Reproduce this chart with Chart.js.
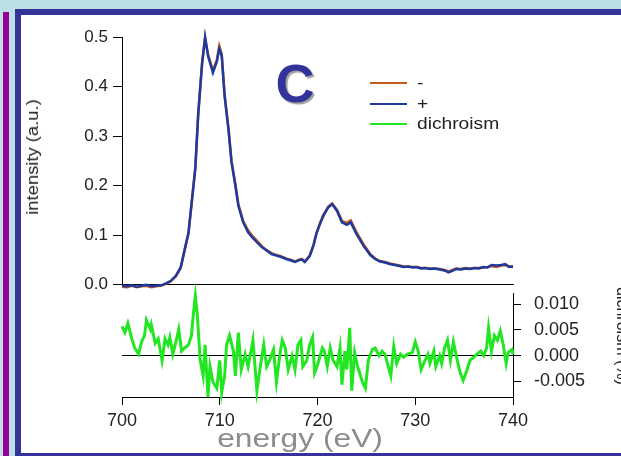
<!DOCTYPE html>
<html>
<head>
<meta charset="utf-8">
<script src="https://cdn.jsdelivr.net/npm/chart.js"></script>
<style>
html,body{margin:0;padding:0;}
body{width:621px;height:456px;overflow:hidden;position:relative;background:#bbe0e4;font-family:"Liberation Sans",Arial,sans-serif;}
#purple{position:absolute;left:3px;top:12px;width:6px;height:444px;background:#990099;}
#frame{position:absolute;left:15px;top:9px;width:700px;height:447px;box-sizing:border-box;background:#fff;border-top:6px solid #333399;border-left:6px solid #333399;border-bottom:3px solid #333399;}
canvas{position:absolute;left:0;}
#specChart{top:0;}
#dichroChart{top:270px;}
.txt{position:absolute;white-space:nowrap;}
#ytitle{left:33px;top:157px;transform:translate(-50%,-50%) rotate(-90deg) scaleX(1.15);font-size:16px;color:#222;}
#xtitle{left:300px;top:438px;transform:translate(-50%,-50%) scaleX(1.22);font-size:26px;color:#8c8c8c;}
#y2title{left:614px;top:287px;writing-mode:vertical-rl;font-size:16px;line-height:16px;color:#222;}
#bigC{left:295px;top:83px;transform:translate(-50%,-50%);font-size:54px;font-weight:bold;color:#333399;text-shadow:2px 2px 1px #a0a0a0;}
#legend{position:absolute;left:370px;top:73px;font-size:16px;color:#222;}
#legend div{display:flex;align-items:center;height:20.5px;}
#legend span.sw{display:inline-block;width:37px;height:2px;margin-right:10px;}
#legend span.lb{display:inline-block;transform:scaleX(1.2);transform-origin:left center;}
</style>
</head>
<body>
<div id="purple"></div>
<div id="frame"></div>
<canvas id="specChart" width="621" height="300"></canvas>
<canvas id="dichroChart" width="621" height="186"></canvas>
<div class="txt" id="ytitle">intensity (a.u.)</div>
<div class="txt" id="xtitle">energy (eV)</div>
<div class="txt" id="y2title">dichroism (%)</div>
<div class="txt" id="bigC">C</div>
<div id="legend"></div>
<script>
const energy = [
700,700.5,701,701.5,702,702.5,703,703.5,704,704.5,
705,705.5,706,706.4,706.8,707.1,707.5,707.8,708.2,708.5,
708.8,709.3,709.7,709.95,710.2,710.5,710.9,711.2,711.6,711.9,
712.4,712.9,713.4,713.8,714.3,714.8,715.3,715.8,716.3,716.8,
717.3,717.7,718.1,718.4,718.7,719.2,719.6,719.9,720.3,720.6,
721.1,721.5,722,722.5,723,723.4,724,724.7,725.4,725.9,
726.4,726.9,727.4,727.9,728.4,728.8,729.3,729.7,730.1,730.6,
731,731.5,732,732.5,733,733.4,733.8,734.2,734.7,735.1,
735.6,736.1,736.5,737,737.4,737.8,738.3,738.8,739.2,739.6,740
]
const plus = [
-0.002,-0.003,-0.001,-0.004,-0.002,0.000,-0.003,-0.002,-0.001,0.003,
0.008,0.018,0.035,0.070,0.105,0.160,0.235,0.345,0.448,0.500,
0.462,0.428,0.450,0.476,0.462,0.380,0.312,0.248,0.200,0.160,
0.126,0.106,0.094,0.086,0.076,0.069,0.062,0.059,0.056,0.052,
0.049,0.046,0.050,0.051,0.046,0.058,0.080,0.104,0.125,0.139,
0.156,0.163,0.149,0.126,0.121,0.126,0.102,0.079,0.060,0.052,
0.047,0.045,0.042,0.040,0.038,0.036,0.037,0.035,0.036,0.033,
0.034,0.032,0.033,0.031,0.029,0.025,0.028,0.032,0.031,0.033,
0.032,0.034,0.033,0.036,0.035,0.040,0.039,0.040,0.042,0.036,0.037
]
const minus = [
-0.004,-0.005,-0.002,-0.005,-0.003,-0.002,-0.005,-0.003,-0.002,0.002,
0.007,0.017,0.034,0.069,0.104,0.161,0.236,0.346,0.449,0.498,
0.465,0.432,0.454,0.482,0.466,0.383,0.314,0.250,0.203,0.163,
0.128,0.110,0.097,0.089,0.078,0.070,0.064,0.060,0.057,0.053,
0.050,0.047,0.050,0.052,0.047,0.059,0.081,0.105,0.127,0.141,
0.158,0.164,0.151,0.129,0.125,0.130,0.106,0.082,0.062,0.053,
0.048,0.046,0.043,0.041,0.039,0.037,0.037,0.036,0.036,0.034,
0.034,0.033,0.033,0.032,0.030,0.027,0.030,0.033,0.032,0.034,
0.033,0.034,0.034,0.035,0.036,0.038,0.036,0.039,0.040,0.037,0.037
]
const dichEnergy = [
700,700.3,700.6,701,701.3,701.7,702,702.3,702.5,702.9,
703,703.4,703.7,704.1,704.4,704.7,704.9,705.2,705.6,705.8,
706.1,706.4,706.8,707.1,707.3,707.5,707.7,708,708.3,708.5,
708.8,709,709.3,709.7,710,710.2,710.5,710.7,711,711.4,
711.6,711.9,712.2,712.6,712.9,713.2,713.4,713.8,714.1,714.5,
714.8,715.1,715.5,715.8,716.2,716.4,716.7,717,717.4,717.7,
718,718.3,718.5,718.9,719.2,719.5,719.7,720,720.5,720.7,
721,721.3,721.6,722,722.3,722.5,722.8,723,723.3,723.5,
723.8,724.1,724.6,724.9,725.2,725.6,725.9,726.3,726.6,726.9,
727.2,727.5,727.8,728.1,728.5,728.8,729.2,729.7,730,730.3,
730.6,731,731.3,731.5,731.9,732.1,732.5,732.7,733,733.3,
733.6,733.9,734.3,734.6,734.9,735.3,735.6,736,736.3,736.7,
737,737.3,737.5,737.8,738.1,738.4,738.7,739,739.3,739.5,
739.9,740
]
const dichroism = [
0.0057,0.0045,0.0063,0.0033,0.0015,0.0003,0.0027,0.0039,0.0069,0.0051,
0.006,0.0024,0.0033,-0.0009,0.0033,0.0021,0.0036,0.0003,0.0033,0.0051,
0.0009,0.0015,0.0021,0.0039,0.008,0.0116,0.008,-0.0009,-0.0039,0.0021,
-0.008,-0.0021,-0.0051,-0.0063,-0.0009,-0.0071,-0.0039,0.0021,0.0039,0.0009,
-0.0039,0.0045,-0.0027,0.0003,-0.0021,0.0009,0.003,-0.0068,-0.0027,0.0021,
-0.0021,-0.0009,0.0012,-0.0051,0.0009,0.003,0.0015,-0.0027,0,-0.0027,
0.0021,0.003,-0.0021,-0.0009,0.0021,0.0036,-0.0033,-0.0018,0.0015,0.0009,
-0.0021,0.0015,-0.0009,-0.0021,0.0015,-0.0056,0.0009,-0.0027,0.0054,-0.0068,
0.0006,-0.0021,-0.0051,-0.0063,-0.0009,0.0012,0.0015,0,0.0009,0.0003,
-0.0018,-0.0039,0.0018,-0.0015,0.0003,-0.0003,0.0003,0.0006,0.0027,0.0009,
-0.0027,-0.0009,0.0003,-0.0015,0.0009,-0.0021,0,-0.0015,0.0015,0.003,
-0.0009,0.0027,-0.0009,-0.0033,-0.0048,-0.0027,-0.0009,-0.0003,0.0003,0.0009,
0,0.0015,0.0054,0.0009,0.0039,0.003,0.0048,0.0021,-0.0015,0.0006,
0.0012,0.0003
]
const energyTicks = [700,710,720,730,740]
const intensityTicks = [0,0.1,0.2,0.3,0.4,0.5]
const dichroTicks = [-0.005,0,0.005,0.010]

const font = "'Liberation Sans', Arial, sans-serif"
const orange = "#c45a1c"
const blue = "#1f3a9e"
const green = "#22e622"

const pts = (xs, ys) => xs.map((x, i) => ({x: x, y: ys[i]}))
const fixTicks = list => s => { s.ticks = list.map(v => ({value: v})) }

/* SPECTRA */

const spec = new Chart(document.getElementById("specChart"), {
type: "line",
data: {
datasets: [
{label: "+", data: pts(energy, plus), borderColor: blue, borderWidth: 2.5, pointRadius: 0, tension: 0, clip: false},
{label: "-", data: pts(energy, minus), borderColor: orange, borderWidth: 2.5, pointRadius: 0, tension: 0, clip: false}
]
},
options: {
responsive: false,
devicePixelRatio: 1,
animation: false,
layout: {padding: {left: 0, right: 108, top: 37, bottom: 14}},
plugins: {legend: {display: false}, tooltip: {enabled: false}},
scales: {
x: {
type: "linear", min: 700, max: 740,
ticks: {display: false},
grid: {display: false},
border: {color: "#000", width: 1},
afterFit: s => { s.height = 0 }
},
y: {
min: 0, max: 0.5,
afterBuildTicks: fixTicks(intensityTicks),
ticks: {callback: v => v.toFixed(1), font: {family: font, size: 17}, color: "#222", padding: 5},
grid: {drawOnChartArea: false, tickLength: 9, tickColor: "#000", color: "#000"},
border: {color: "#000", width: 1},
afterFit: s => { s.width = 122 }
}
}
}
})

/* DICHROISM */

const dichro = new Chart(document.getElementById("dichroChart"), {
type: "line",
data: {
datasets: [
{label: "dichroism", data: pts(dichEnergy, dichroism), borderColor: green, borderWidth: 3, pointRadius: 0, tension: 0, clip: false}
]
},
options: {
responsive: false,
devicePixelRatio: 1,
animation: false,
layout: {padding: {left: 122, right: 0, top: 15, bottom: 19}},
plugins: {legend: {display: false}, tooltip: {enabled: false}},
scales: {
x: {
type: "linear", min: 700, max: 740,
afterBuildTicks: fixTicks(energyTicks),
ticks: {font: {family: font, size: 18}, color: "#222", padding: 5},
grid: {drawOnChartArea: false, tickLength: 8, tickColor: "#000", color: "#000"},
border: {color: "#000", width: 1},
afterFit: s => { s.height = 40 }
},
y: {
position: "right",
min: -0.008, max: 0.012,
afterBuildTicks: fixTicks(dichroTicks),
ticks: {callback: v => v.toFixed(3), font: {family: font, size: 18}, color: "#222", padding: 13},
grid: {
color: c => (c.tick && c.tick.value === 0) ? "#000" : "rgba(0,0,0,0)",
tickColor: "#000", tickLength: 8
},
border: {color: "#000", width: 1},
afterFit: s => { s.width = 108 }
}
}
}
})

/* LEGEND */

const legendItems = [spec.data.datasets[1], spec.data.datasets[0], dichro.data.datasets[0]]
document.getElementById("legend").innerHTML = legendItems.map(d =>
'<div><span class="sw" style="background:' + d.borderColor + '"></span><span class="lb">' + d.label + '</span></div>'
).join("")
</script>
</body>
</html>
